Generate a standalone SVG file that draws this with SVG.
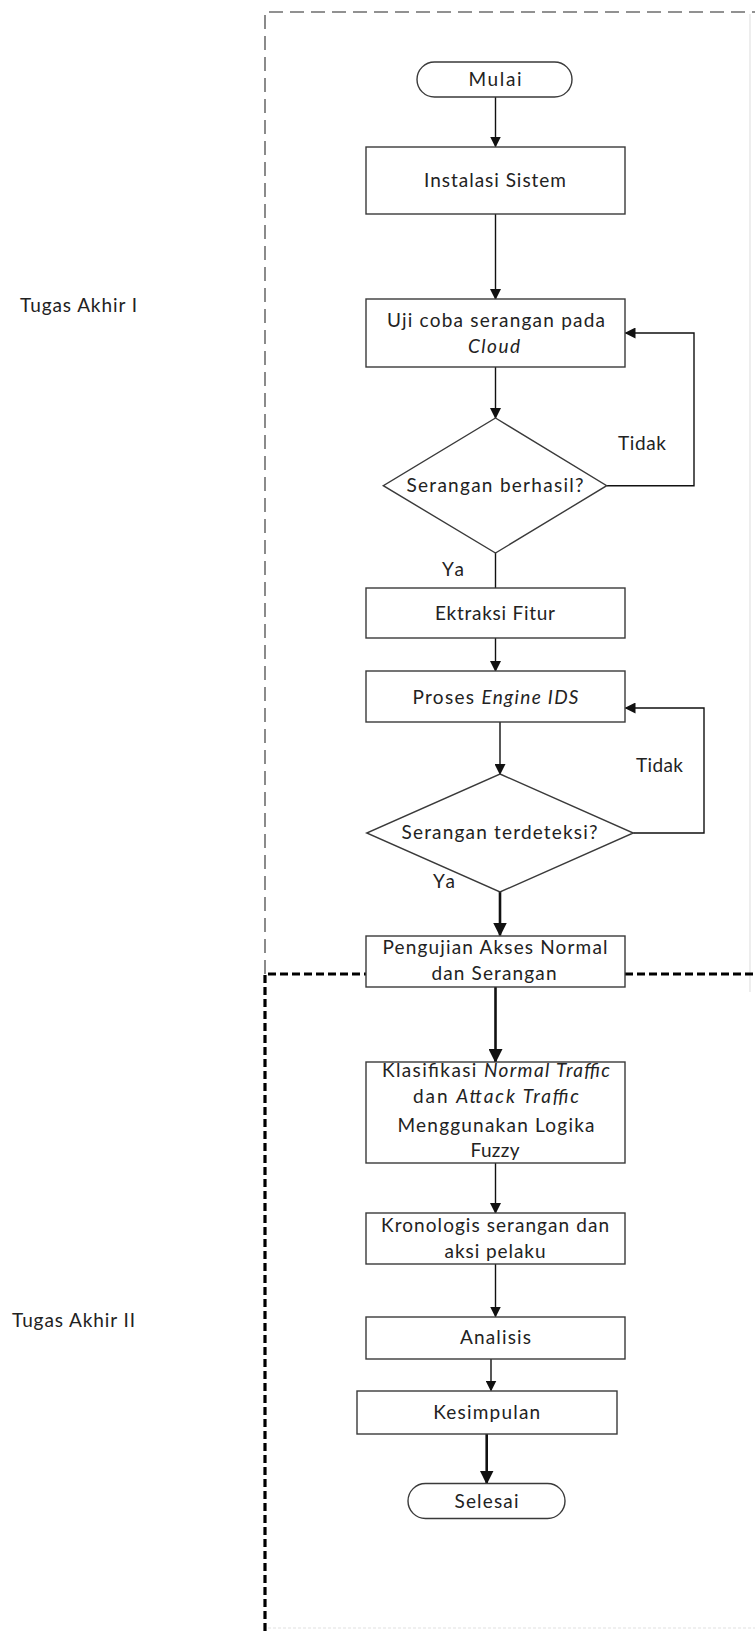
<svg xmlns="http://www.w3.org/2000/svg" width="755" height="1631" viewBox="0 0 755 1631">
<style>
.bg{fill:#ffffff}
.box{fill:#ffffff;stroke:#3a3a3a;stroke-width:1.4}
.t{font-family:Lato,"Liberation Sans",sans-serif;font-size:19px;fill:#222222;text-anchor:middle}
.lbl{font-family:Lato,"Liberation Sans",sans-serif;font-size:19px;fill:#222222}
.i{font-style:italic}
.c{fill:none;stroke:#111111;stroke-width:1.4}
.ck{fill:none;stroke:#111111;stroke-width:2.6}
.gd{fill:none;stroke:#6e6e6e;stroke-width:1.6;stroke-dasharray:14 7}
.bd{fill:none;stroke:#000000;stroke-width:3.2;stroke-dasharray:8 4}
.fl{fill:none;stroke:#e2e2e2;stroke-width:1.2}
</style>
<defs>
<marker id="a" markerUnits="userSpaceOnUse" markerWidth="11" markerHeight="11" refX="10" refY="5.5" orient="auto"><path d="M0,0 L11,5.5 L0,11 z" fill="#111111"/></marker>
<marker id="ak" markerUnits="userSpaceOnUse" markerWidth="14" markerHeight="14" refX="13" refY="7" orient="auto"><path d="M0,0 L14,7 L0,14 z" fill="#111111"/></marker>
</defs>
<rect class="bg" x="0" y="0" width="755" height="1631"/>

<g id="frames">
<path class="fl" d="M750,14 V992"/>
<path class="fl" d="M268,1628 H755" stroke-dasharray="3 2"/>
<path class="gd" d="M265,974 V12 H755"/>
<path class="bd" d="M265,1631 V974 H366"/>
<path class="bd" d="M625,974 H755"/>
</g>

<g id="labels">
<text class="lbl" x="20" y="312" textLength="117" lengthAdjust="spacing">Tugas Akhir I</text>
<text class="lbl" x="12" y="1327" textLength="123" lengthAdjust="spacing">Tugas Akhir II</text>
</g>

<g id="connectors">
<path class="c" d="M495.5,97 V146.5" marker-end="url(#a)"/>
<path class="c" d="M495.5,214 V299" marker-end="url(#a)"/>
<path class="c" d="M495.5,367 V418" marker-end="url(#a)"/>
<path class="c" d="M606.7,485.7 H694 V333 H625.5" marker-end="url(#a)"/>
<path class="c" d="M495.5,553 V588"/>
<path class="c" d="M495.5,638 V671" marker-end="url(#a)"/>
<path class="c" d="M500,722 V774" marker-end="url(#a)"/>
<path class="c" d="M633.3,833 H704 V708 H625.5" marker-end="url(#a)"/>
<path class="ck" d="M500,892 V935.5" marker-end="url(#ak)"/>
<path class="ck" d="M495.5,987 V1062" marker-end="url(#ak)"/>
<path class="c" d="M495.5,1163 V1213" marker-end="url(#a)"/>
<path class="c" d="M495.5,1264 V1316.5" marker-end="url(#a)"/>
<path class="c" d="M491,1359 V1390.5" marker-end="url(#a)"/>
<path class="ck" d="M486.7,1434 V1483.5" marker-end="url(#ak)"/>
<text class="lbl" x="618" y="450" textLength="48" lengthAdjust="spacing">Tidak</text>
<text class="lbl" x="442" y="576" textLength="22" lengthAdjust="spacing">Ya</text>
<text class="lbl" x="636" y="772" textLength="47" lengthAdjust="spacing">Tidak</text>
<text class="lbl" x="433" y="888" textLength="22" lengthAdjust="spacing">Ya</text>
</g>

<g id="mulai">
<rect class="box" x="417" y="62" width="155" height="35" rx="17.5" ry="17.5"/>
<text class="t" x="495" y="86" textLength="53" lengthAdjust="spacing">Mulai</text>
</g>

<g id="instalasi">
<rect class="box" x="366" y="147" width="259" height="67"/>
<text class="t" x="495" y="187" textLength="142" lengthAdjust="spacing">Instalasi Sistem</text>
</g>

<g id="ujicoba">
<rect class="box" x="366" y="299" width="259" height="68"/>
<text class="t" x="496" y="327" textLength="218" lengthAdjust="spacing">Uji coba serangan pada</text>
<text class="t i" x="494" y="353" textLength="52" lengthAdjust="spacing">Cloud</text>
</g>

<g id="decision1">
<polygon class="box" points="495.5,418 606.7,485.7 495.5,553 383.3,485.7"/>
<text class="t" x="495" y="492" textLength="177" lengthAdjust="spacing">Serangan berhasil?</text>
</g>

<g id="ektraksi">
<rect class="box" x="366" y="588" width="259" height="50"/>
<text class="t" x="495" y="620" textLength="120" lengthAdjust="spacing">Ektraksi Fitur</text>
</g>

<g id="proses">
<rect class="box" x="366" y="671" width="259" height="51"/>
<text class="t" x="495.5" y="704" textLength="166" lengthAdjust="spacing">Proses <tspan class="i">Engine IDS</tspan></text>
</g>

<g id="decision2">
<polygon class="box" points="500,774 633.3,833 500,892 366.7,833"/>
<text class="t" x="499.5" y="839" textLength="196" lengthAdjust="spacing">Serangan terdeteksi?</text>
</g>

<g id="pengujian">
<rect class="box" x="366" y="936" width="259" height="51"/>
<text class="t" x="495" y="954" textLength="225" lengthAdjust="spacing">Pengujian Akses Normal</text>
<text class="t" x="494" y="980" textLength="125" lengthAdjust="spacing">dan Serangan</text>
</g>

<g id="klasifikasi">
<rect class="box" x="366" y="1062" width="259" height="101"/>
<text class="t" x="496" y="1077" textLength="228" lengthAdjust="spacing">Klasifikasi <tspan class="i">Normal Traffic</tspan></text>
<text class="t" x="496" y="1103" textLength="166" lengthAdjust="spacing">dan <tspan class="i">Attack Traffic</tspan></text>
<text class="t" x="496" y="1131.5" textLength="197" lengthAdjust="spacing">Menggunakan Logika</text>
<text class="t" x="495" y="1157" textLength="49" lengthAdjust="spacing">Fuzzy</text>
</g>

<g id="kronologis">
<rect class="box" x="366" y="1213" width="259" height="51"/>
<text class="t" x="495" y="1232" textLength="228" lengthAdjust="spacing">Kronologis serangan dan</text>
<text class="t" x="495" y="1258" textLength="101" lengthAdjust="spacing">aksi pelaku</text>
</g>

<g id="analisis">
<rect class="box" x="366" y="1317" width="259" height="42"/>
<text class="t" x="495.5" y="1344" textLength="71" lengthAdjust="spacing">Analisis</text>
</g>

<g id="kesimpulan">
<rect class="box" x="357" y="1391" width="260" height="43"/>
<text class="t" x="486.7" y="1419" textLength="107" lengthAdjust="spacing">Kesimpulan</text>
</g>

<g id="selesai">
<rect class="box" x="408" y="1483.5" width="157" height="35" rx="17.5" ry="17.5"/>
<text class="t" x="486.5" y="1508" textLength="64" lengthAdjust="spacing">Selesai</text>
</g>
</svg>
